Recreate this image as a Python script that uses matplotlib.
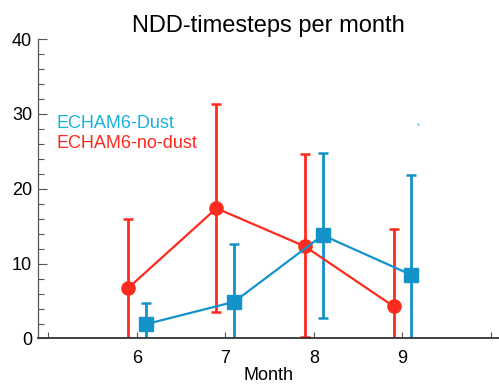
import matplotlib
matplotlib.use("Agg")
import matplotlib.pyplot as plt
import numpy as np

plt.rcParams['font.family'] = ['Liberation Sans', 'DejaVu Sans']

months = [6, 7, 8, 9]
tick_labels = ['6', '7', '8', '9']

dust_x = [6.1, 7.1, 8.1, 9.1]
dust_val = [1.9, 4.9, 13.8, 8.5]
dust_lo = [-2.0, -2.0, 2.8, -2.0]
dust_hi = [4.7, 12.6, 24.8, 21.8]

nodust_x = [5.9, 6.9, 7.9, 8.9]
nodust_val = [6.7, 17.4, 12.3, 4.3]
nodust_lo = [-2.0, 3.6, 0.25, -2.0]
nodust_hi = [16.0, 31.3, 24.6, 14.6]

c_dust = '#1393c9'
c_dust_txt = '#19b2dc'
c_red = '#fd2a1e'

fig = plt.figure(figsize=(4.99, 3.84), dpi=100)
ax = fig.add_axes([0.0752, 0.1185, 0.9248, 0.7795])

def draw(x, v, lo, hi, color, marker, ms):
    v = np.array(v); lo = np.array(lo); hi = np.array(hi)
    yerr = np.vstack([v - lo, hi - v])
    ax.errorbar(x, v, yerr=yerr, color=color, marker=marker, ms=ms,
                lw=1.6, elinewidth=2.0, capsize=3.6, capthick=1.8,
                mec=color, mfc=color, zorder=3)

draw(nodust_x, nodust_val, nodust_lo, nodust_hi, c_red, 'o', 9.5)
draw(dust_x, dust_val, dust_lo, dust_hi, c_dust, 's', 10)

ax.set_xlim(4.88, 10.09)
ax.set_ylim(0, 40)

ax.set_xticks([5] + months + [10])
ax.set_xticklabels([''] + tick_labels + [''])
ax.set_yticks([0, 10, 20, 30, 40])
ax.set_yticks(np.arange(0, 41, 2), minor=True)

ax.tick_params(axis='x', direction='in', length=4, width=0.8, color='#555555',
               labelsize=13, pad=8)
ax.tick_params(axis='y', which='major', direction='in', length=6.5, width=0.8,
               color='#555555', labelsize=13, pad=4)
ax.tick_params(axis='y', which='minor', direction='in', length=4.3, width=0.8,
               color='#555555')

for s in ['top', 'right']:
    ax.spines[s].set_visible(False)
ax.spines['left'].set_color('#555555')
ax.spines['left'].set_linewidth(0.9)
ax.spines['bottom'].set_color('#333333')
ax.spines['bottom'].set_linewidth(1.3)
ax.spines['bottom'].set_zorder(5)

ax.set_xlabel('Month', fontsize=13, labelpad=0.3)
ax.set_title('NDD-timesteps per month', fontsize=17, pad=5)

ax.text(0.041, 0.717, 'ECHAM6-Dust', color=c_dust_txt, fontsize=13,
        transform=ax.transAxes, va='center', ha='left')
ax.text(0.041, 0.650, 'ECHAM6-no-dust', color=c_red, fontsize=13,
        transform=ax.transAxes, va='center', ha='left')
ax.plot([0.825], [0.717], marker='s', ms=1.2, color=c_dust_txt, mew=0,
        transform=ax.transAxes)

fig.savefig('out.png', dpi=100)
